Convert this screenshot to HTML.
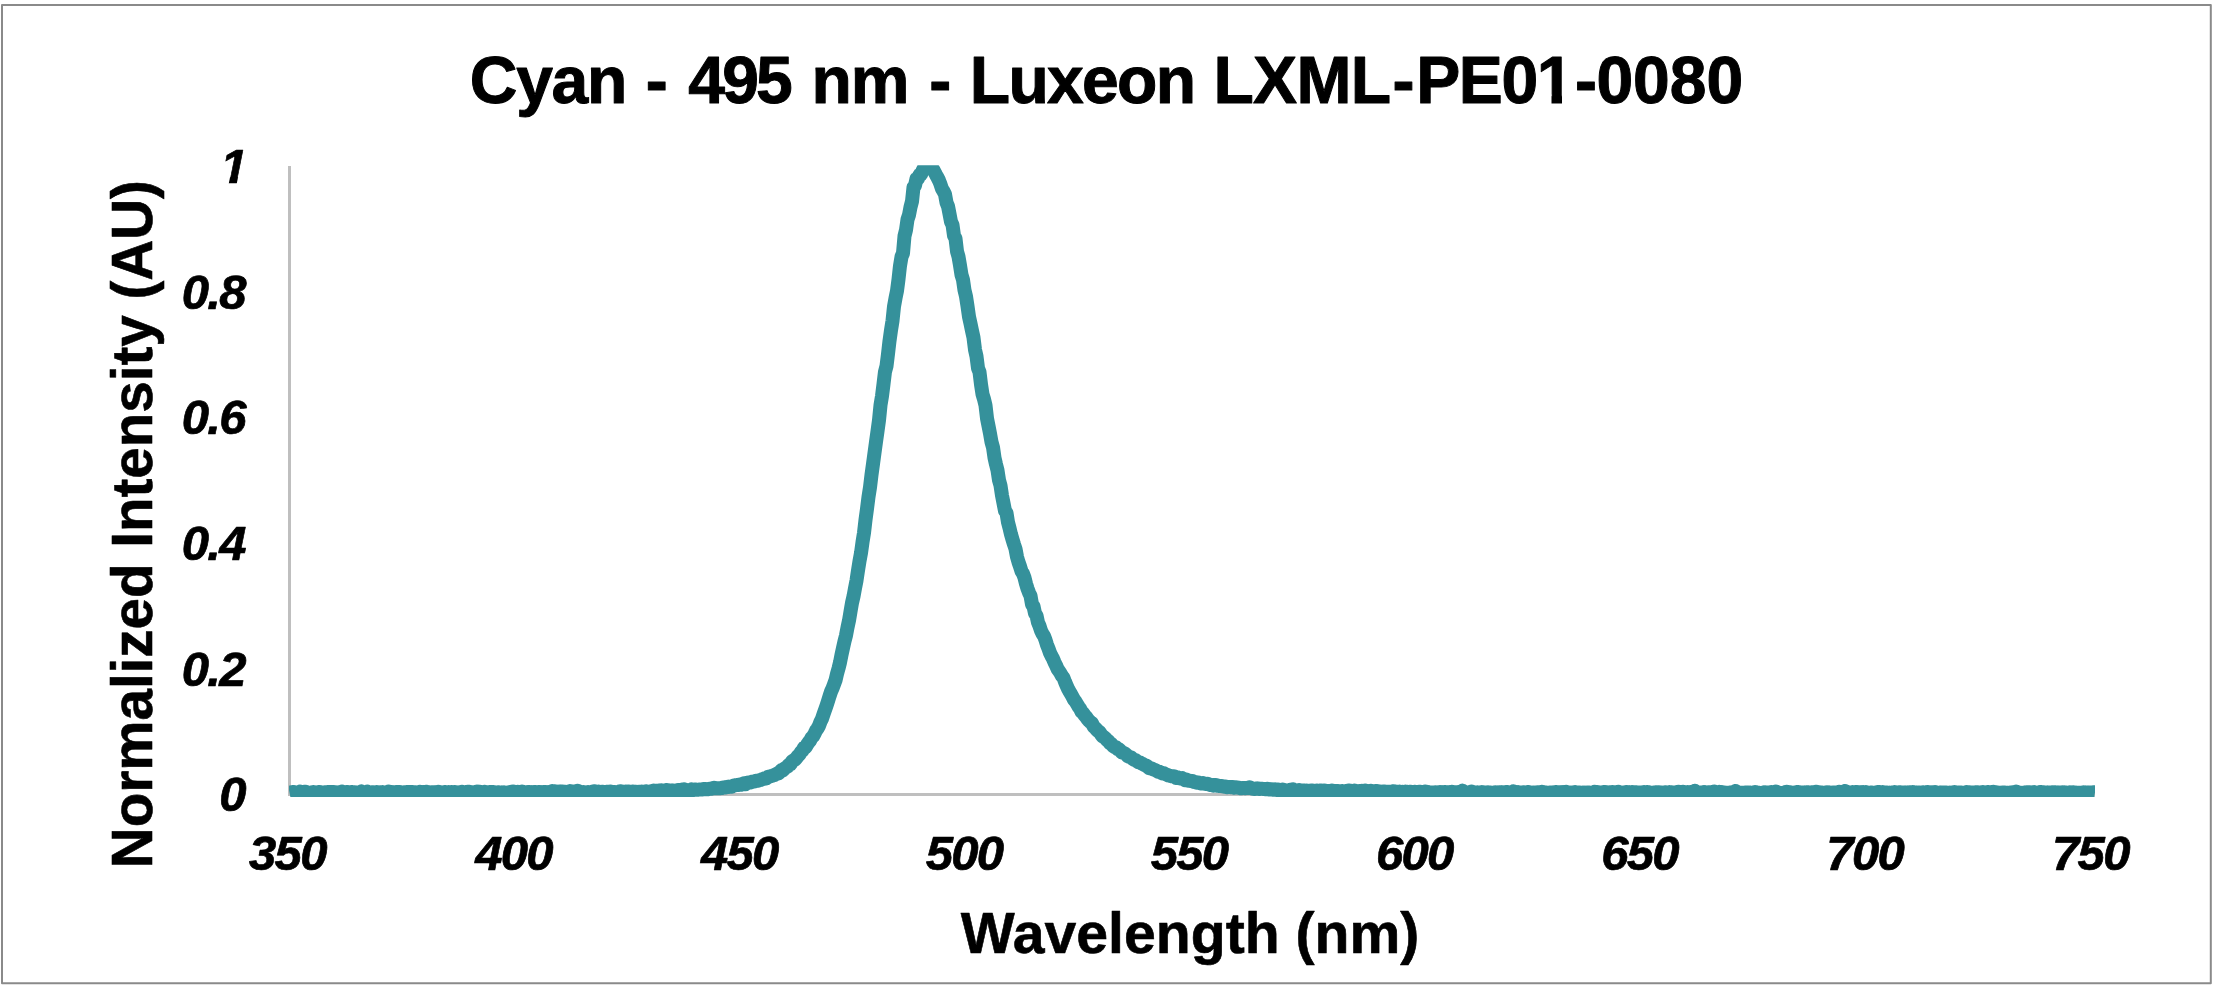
<!DOCTYPE html>
<html lang="en">
<head>
<meta charset="utf-8">
<title>Cyan - 495 nm - Luxeon LXML-PE01-0080</title>
<style>
html,body{margin:0;padding:0;background:#fff;}
body{width:2218px;height:990px;overflow:hidden;font-family:"Liberation Sans",sans-serif;}
svg{display:block;}
.title{font:bold 66px "Liberation Sans",sans-serif;fill:#000;stroke:#000;stroke-width:1px;stroke-linejoin:round;}
.axt{font:bold 57px "Liberation Sans",sans-serif;fill:#000;stroke:#000;stroke-width:0.6px;stroke-linejoin:round;}
.tick text{font:italic bold 49px "Liberation Sans",sans-serif;fill:#000;letter-spacing:-1.7px;stroke:#000;stroke-width:0.7px;stroke-linejoin:round;}
</style>
</head>
<body>
<svg width="2218" height="990" viewBox="0 0 2218 990">
<defs><clipPath id="plot"><rect x="289" y="165.2" width="1806" height="631.8"/></clipPath></defs>
<rect x="0" y="0" width="2218" height="990" fill="#fff"/>
<rect x="2" y="5" width="2208.8" height="978.3" fill="none" stroke="#8a8a8a" stroke-width="2" stroke-linejoin="round"/>
<text class="title" y="103" xml:space="preserve"><tspan x="469.8" letter-spacing="-1.33">Cyan </tspan><tspan x="645.8" letter-spacing="0.00">- </tspan><tspan x="688.2" letter-spacing="-2.75">495 </tspan><tspan x="811.4" letter-spacing="-1.00">nm </tspan><tspan x="929.2" letter-spacing="0.00">- </tspan><tspan x="969.8" letter-spacing="-1.70">Luxeon </tspan><tspan x="1213.4" letter-spacing="-0.67">LXML</tspan><tspan x="1392.6" letter-spacing="0.00">-</tspan><tspan x="1416.2" letter-spacing="-1.40">PE01</tspan><tspan x="1575.0" letter-spacing="0.00">-</tspan><tspan x="1596.4" letter-spacing="0.00">0080</tspan></text>
<line x1="289.5" y1="166" x2="289.5" y2="796" stroke="#bfbfbf" stroke-width="3"/>
<line x1="288" y1="794.5" x2="2095" y2="794.5" stroke="#bfbfbf" stroke-width="3"/>
<g class="tick"><text x="287.4" y="869.65" text-anchor="middle">350</text><text x="513.6" y="869.65" text-anchor="middle">400</text><text x="739.3" y="869.65" text-anchor="middle">450</text><text x="964.0" y="869.65" text-anchor="middle">500</text><text x="1189.1" y="869.65" text-anchor="middle">550</text><text x="1414.3" y="869.65" text-anchor="middle">600</text><text x="1639.5" y="869.65" text-anchor="middle">650</text><text x="1864.7" y="869.65" text-anchor="middle">700</text><text x="2090.4" y="869.65" text-anchor="middle">750</text><text x="244.8" y="811.4" text-anchor="end">0</text><text x="244.8" y="685.7" text-anchor="end">0.2</text><text x="244.8" y="560.1" text-anchor="end">0.4</text><text x="244.8" y="434.4" text-anchor="end">0.6</text><text x="244.8" y="308.8" text-anchor="end">0.8</text><text x="246.0" y="183.1" text-anchor="end">1</text></g>
<g fill="#fff"><polygon points="218,176.55 230.2,176.55 228.6,184.3 218,184.3"/><polygon points="238.2,176.55 249,176.55 249,184.3 236.6,184.3"/><rect x="1538" y="94.6" width="13.5" height="10"/><rect x="1562" y="94.6" width="12" height="10"/></g>
<text class="axt" x="1190.1" y="952.7" text-anchor="middle" textLength="458.5" lengthAdjust="spacingAndGlyphs">Wavelength (nm)</text>
<text class="axt" transform="translate(151.9,524.2) rotate(-90)" text-anchor="middle" textLength="688" lengthAdjust="spacingAndGlyphs">Normalized Intensity (AU)</text>
<g clip-path="url(#plot)"><path d="M289.5,792.7 L291.0,792.4 L292.5,792.1 L294.0,792.1 L295.5,792.4 L297.0,792.5 L298.5,792.7 L300.0,791.7 L301.5,792.5 L303.0,792.2 L304.5,791.8 L306.0,791.7 L307.5,792.9 L309.0,792.7 L310.5,792.9 L312.0,792.8 L313.5,792.0 L315.0,792.3 L316.5,792.9 L318.0,792.2 L319.5,792.0 L321.0,792.5 L322.5,792.6 L324.0,792.5 L325.5,792.3 L327.0,792.2 L328.5,792.0 L330.0,792.0 L331.5,792.0 L333.0,792.0 L334.5,792.2 L336.0,792.9 L337.5,792.4 L339.0,792.3 L340.5,792.5 L342.0,791.6 L343.5,792.5 L345.0,792.7 L346.5,791.9 L348.0,792.2 L349.5,792.3 L351.0,792.1 L352.5,792.1 L354.0,792.3 L355.5,793.1 L357.0,792.6 L358.5,792.5 L360.0,792.7 L361.5,791.4 L363.0,792.0 L364.5,792.5 L366.0,792.7 L367.5,791.7 L369.0,792.5 L370.5,792.8 L372.0,792.3 L373.5,792.2 L375.0,792.6 L376.5,792.1 L378.0,792.5 L379.5,792.7 L381.0,792.3 L382.5,792.1 L384.0,792.6 L385.5,792.3 L387.0,792.4 L388.5,791.5 L390.0,792.4 L391.5,791.9 L393.0,792.4 L394.5,792.4 L396.0,792.1 L397.5,792.1 L399.0,792.0 L400.5,792.2 L402.0,792.5 L403.5,792.5 L405.0,792.2 L406.5,792.2 L408.0,791.9 L409.5,792.2 L411.0,792.0 L412.5,791.9 L414.0,792.3 L415.5,792.2 L417.0,792.7 L418.5,792.8 L420.0,791.8 L421.5,792.6 L423.0,791.9 L424.5,792.1 L426.0,791.8 L427.5,792.0 L429.0,792.3 L430.5,792.4 L432.0,792.3 L433.5,792.3 L435.0,792.5 L436.5,792.3 L438.0,791.8 L439.5,792.8 L441.0,792.2 L442.5,792.6 L444.0,792.2 L445.5,792.0 L447.0,792.3 L448.5,792.1 L450.0,792.8 L451.5,792.0 L453.0,792.5 L454.5,792.1 L456.0,792.2 L457.5,793.1 L459.0,792.5 L460.5,792.2 L462.0,791.8 L463.5,792.2 L465.0,792.2 L466.5,792.7 L468.0,791.8 L469.5,791.7 L471.0,792.3 L472.5,792.3 L474.0,792.8 L475.5,792.0 L477.0,791.4 L478.5,792.0 L480.0,791.8 L481.5,792.1 L483.0,792.5 L484.5,791.8 L486.0,792.6 L487.5,792.3 L489.0,792.1 L490.5,791.9 L492.0,792.1 L493.5,792.1 L495.0,792.4 L496.5,792.6 L498.0,792.2 L499.5,792.4 L501.0,792.6 L502.5,792.6 L504.0,792.3 L505.5,792.8 L507.0,792.6 L508.5,792.7 L510.0,792.1 L511.5,792.0 L513.0,791.5 L514.5,792.6 L516.0,792.3 L517.5,791.8 L519.0,792.2 L520.5,792.2 L522.0,791.6 L523.5,792.2 L525.0,792.5 L526.5,792.5 L528.0,792.0 L529.5,792.0 L531.0,792.5 L532.5,792.4 L534.0,791.9 L535.5,791.9 L537.0,792.3 L538.5,791.9 L540.0,791.9 L541.5,792.6 L543.0,792.1 L544.5,791.9 L546.0,792.2 L547.5,792.7 L549.0,792.1 L550.5,791.8 L552.0,791.2 L553.5,792.7 L555.0,791.2 L556.5,792.4 L558.0,791.7 L559.5,791.6 L561.0,791.7 L562.5,791.4 L564.0,792.4 L565.5,791.8 L567.0,792.2 L568.5,792.8 L570.0,791.1 L571.5,791.8 L573.0,791.4 L574.5,792.3 L576.0,791.5 L577.5,790.7 L579.0,791.5 L580.5,792.0 L582.0,792.3 L583.5,792.0 L585.0,792.6 L586.5,792.5 L588.0,791.9 L589.5,792.3 L591.0,792.0 L592.5,791.7 L594.0,791.3 L595.5,791.5 L597.0,791.9 L598.5,791.6 L600.0,792.2 L601.5,792.0 L603.0,791.7 L604.5,792.3 L606.0,792.0 L607.5,791.7 L609.0,791.9 L610.5,791.4 L612.0,792.2 L613.5,791.9 L615.0,792.2 L616.5,792.3 L618.0,792.3 L619.5,791.4 L621.0,791.2 L622.5,791.8 L624.0,792.1 L625.5,791.6 L627.0,791.9 L628.5,791.6 L630.0,791.7 L631.5,791.7 L633.0,791.6 L634.5,791.9 L636.0,791.8 L637.5,792.2 L639.0,791.7 L640.5,792.0 L642.0,791.6 L643.5,791.8 L645.0,791.4 L646.5,791.3 L648.0,791.8 L649.5,791.6 L651.0,791.5 L652.5,791.0 L654.0,790.6 L655.5,790.8 L657.0,791.1 L658.5,790.5 L660.0,791.4 L661.5,790.4 L663.0,791.1 L664.5,791.7 L666.0,789.9 L667.5,790.1 L669.0,790.9 L670.5,790.5 L672.0,790.6 L673.5,790.4 L675.0,790.8 L676.5,790.5 L678.0,790.1 L679.5,790.1 L681.0,789.8 L682.5,790.1 L684.0,789.3 L685.5,790.2 L687.0,789.9 L688.5,790.5 L690.0,790.2 L691.5,789.4 L693.0,790.0 L694.5,789.5 L696.0,789.6 L697.5,789.8 L699.0,789.5 L700.5,789.5 L702.0,789.4 L703.5,789.0 L705.0,789.0 L706.5,789.2 L708.0,789.2 L709.5,788.8 L711.0,788.8 L712.5,788.3 L714.0,787.7 L715.5,788.1 L717.0,788.3 L718.5,788.2 L720.0,788.2 L721.5,788.1 L723.0,787.4 L724.5,787.6 L726.0,787.3 L727.5,786.7 L729.0,786.9 L730.5,786.6 L732.0,786.7 L733.5,785.6 L735.0,785.3 L736.5,785.1 L738.0,785.1 L739.5,784.5 L741.0,784.8 L742.5,784.2 L744.0,783.3 L745.5,784.2 L747.0,782.9 L748.5,782.4 L750.0,782.5 L751.5,782.0 L753.0,781.5 L754.5,781.6 L756.0,780.8 L757.5,780.8 L759.0,780.3 L760.5,779.9 L762.0,779.3 L763.5,778.9 L765.0,778.2 L766.5,778.4 L768.0,776.7 L769.5,776.6 L771.0,776.1 L772.5,775.7 L774.0,775.2 L775.5,774.4 L777.0,773.6 L778.5,773.5 L780.0,771.9 L781.5,770.0 L783.0,770.3 L784.5,768.5 L786.0,767.5 L787.5,766.6 L789.0,764.7 L790.5,764.4 L792.0,761.4 L793.5,760.3 L795.0,759.7 L796.5,757.8 L798.0,755.9 L799.5,754.5 L801.0,752.0 L802.5,750.6 L804.0,747.6 L805.5,747.3 L807.0,744.8 L808.5,742.6 L810.0,740.8 L811.5,737.9 L813.0,736.4 L814.5,733.8 L816.0,730.6 L817.5,728.5 L819.0,725.8 L820.5,721.8 L822.0,718.7 L823.5,714.3 L825.0,710.0 L826.5,705.7 L828.0,701.1 L829.5,696.2 L831.0,691.7 L832.5,688.4 L834.0,684.3 L835.5,680.3 L837.0,673.9 L838.5,668.5 L840.0,662.5 L841.5,654.8 L843.0,647.9 L844.5,641.2 L846.0,635.4 L847.5,627.5 L849.0,620.6 L850.5,611.7 L852.0,602.9 L853.5,596.4 L855.0,588.3 L856.5,580.6 L858.0,570.4 L859.5,561.2 L861.0,553.1 L862.5,542.2 L864.0,532.9 L865.5,519.9 L867.0,508.9 L868.5,496.9 L870.0,487.4 L871.5,474.8 L873.0,464.0 L874.5,452.9 L876.0,441.9 L877.5,431.3 L879.0,420.2 L880.5,405.2 L882.0,396.2 L883.5,384.1 L885.0,371.7 L886.5,366.1 L888.0,354.0 L889.5,340.9 L891.0,330.3 L892.5,320.8 L894.0,306.5 L895.5,298.2 L897.0,290.9 L898.5,279.4 L900.0,265.8 L901.5,256.8 L903.0,253.2 L904.5,236.0 L906.0,230.0 L907.5,219.5 L909.0,215.0 L910.5,207.1 L912.0,201.4 L913.5,187.2 L915.0,185.6 L916.5,178.8 L918.0,178.5 L919.5,174.8 L921.0,174.4 L922.5,170.9 L924.0,167.9 L925.5,168.0 L927.0,166.5 L928.5,166.2 L930.0,167.1 L931.5,167.6 L933.0,169.2 L934.5,171.9 L936.0,174.8 L937.5,177.5 L939.0,180.5 L940.5,184.3 L942.0,188.9 L943.5,191.3 L945.0,194.2 L946.5,202.6 L948.0,206.2 L949.5,213.9 L951.0,221.7 L952.5,224.9 L954.0,235.6 L955.5,238.5 L957.0,251.3 L958.5,256.6 L960.0,265.4 L961.5,274.9 L963.0,279.8 L964.5,290.2 L966.0,296.4 L967.5,306.1 L969.0,316.7 L970.5,323.6 L972.0,330.7 L973.5,337.6 L975.0,349.7 L976.5,356.4 L978.0,368.2 L979.5,372.0 L981.0,384.4 L982.5,394.2 L984.0,399.1 L985.5,405.4 L987.0,418.3 L988.5,425.9 L990.0,433.5 L991.5,442.0 L993.0,447.3 L994.5,457.7 L996.0,464.4 L997.5,470.3 L999.0,480.1 L1000.5,485.5 L1002.0,495.5 L1003.5,503.1 L1005.0,510.9 L1006.5,512.9 L1008.0,522.3 L1009.5,528.1 L1011.0,534.3 L1012.5,539.5 L1014.0,544.4 L1015.5,548.9 L1017.0,556.9 L1018.5,562.1 L1020.0,566.4 L1021.5,571.3 L1023.0,573.6 L1024.5,577.7 L1026.0,583.7 L1027.5,588.6 L1029.0,592.7 L1030.5,595.8 L1032.0,604.4 L1033.5,606.2 L1035.0,613.4 L1036.5,615.6 L1038.0,622.4 L1039.5,626.0 L1041.0,630.6 L1042.5,633.8 L1044.0,636.1 L1045.5,640.0 L1047.0,644.9 L1048.5,648.6 L1050.0,652.9 L1051.5,656.0 L1053.0,658.7 L1054.5,662.3 L1056.0,665.3 L1057.5,668.9 L1059.0,671.0 L1060.5,673.3 L1062.0,676.0 L1063.5,677.9 L1065.0,681.9 L1066.5,685.3 L1068.0,688.8 L1069.5,691.4 L1071.0,694.0 L1072.5,696.8 L1074.0,699.6 L1075.5,701.5 L1077.0,704.0 L1078.5,706.6 L1080.0,708.5 L1081.5,711.7 L1083.0,713.0 L1084.5,715.1 L1086.0,716.8 L1087.5,719.0 L1089.0,720.8 L1090.5,722.1 L1092.0,723.2 L1093.5,726.4 L1095.0,727.7 L1096.5,729.5 L1098.0,731.0 L1099.5,731.9 L1101.0,734.3 L1102.5,736.3 L1104.0,737.0 L1105.5,738.4 L1107.0,740.1 L1108.5,741.2 L1110.0,743.2 L1111.5,744.1 L1113.0,746.0 L1114.5,746.9 L1116.0,747.3 L1117.5,749.1 L1119.0,749.3 L1120.5,750.9 L1122.0,752.6 L1123.5,752.8 L1125.0,753.5 L1126.5,754.9 L1128.0,756.3 L1129.5,756.9 L1131.0,757.4 L1132.5,758.7 L1134.0,759.7 L1135.5,760.0 L1137.0,761.3 L1138.5,762.2 L1140.0,762.6 L1141.5,763.5 L1143.0,764.1 L1144.5,765.2 L1146.0,765.4 L1147.5,766.5 L1149.0,768.2 L1150.5,768.0 L1152.0,768.7 L1153.5,769.5 L1155.0,769.9 L1156.5,770.8 L1158.0,771.8 L1159.5,771.7 L1161.0,772.7 L1162.5,773.6 L1164.0,773.3 L1165.5,774.3 L1167.0,774.7 L1168.5,775.5 L1170.0,775.8 L1171.5,776.2 L1173.0,776.3 L1174.5,776.5 L1176.0,777.9 L1177.5,777.3 L1179.0,778.2 L1180.5,778.6 L1182.0,778.1 L1183.5,779.2 L1185.0,780.2 L1186.5,779.5 L1188.0,780.8 L1189.5,780.8 L1191.0,781.0 L1192.5,781.0 L1194.0,781.9 L1195.5,781.9 L1197.0,782.7 L1198.5,782.4 L1200.0,783.3 L1201.5,783.5 L1203.0,783.0 L1204.5,783.7 L1206.0,784.1 L1207.5,783.7 L1209.0,784.5 L1210.5,785.1 L1212.0,784.9 L1213.5,785.6 L1215.0,785.0 L1216.5,785.2 L1218.0,785.9 L1219.5,786.1 L1221.0,786.0 L1222.5,786.2 L1224.0,786.7 L1225.5,786.4 L1227.0,787.3 L1228.5,786.9 L1230.0,787.0 L1231.5,787.2 L1233.0,787.1 L1234.5,787.7 L1236.0,787.2 L1237.5,787.6 L1239.0,787.8 L1240.5,788.2 L1242.0,788.2 L1243.5,787.9 L1245.0,788.2 L1246.5,788.1 L1248.0,788.0 L1249.5,787.2 L1251.0,788.0 L1252.5,788.7 L1254.0,789.0 L1255.5,788.4 L1257.0,788.7 L1258.5,788.5 L1260.0,789.0 L1261.5,788.7 L1263.0,788.9 L1264.5,789.0 L1266.0,789.2 L1267.5,788.7 L1269.0,789.4 L1270.5,789.5 L1272.0,789.3 L1273.5,789.8 L1275.0,789.2 L1276.5,789.9 L1278.0,789.6 L1279.5,790.0 L1281.0,790.2 L1282.5,789.5 L1284.0,790.3 L1285.5,790.7 L1287.0,790.6 L1288.5,790.5 L1290.0,789.8 L1291.5,790.4 L1293.0,789.4 L1294.5,790.9 L1296.0,790.5 L1297.5,790.4 L1299.0,790.1 L1300.5,790.9 L1302.0,790.5 L1303.5,790.6 L1305.0,791.1 L1306.5,790.4 L1308.0,790.8 L1309.5,791.4 L1311.0,790.6 L1312.5,790.6 L1314.0,791.0 L1315.5,791.3 L1317.0,790.4 L1318.5,790.8 L1320.0,790.5 L1321.5,790.4 L1323.0,791.1 L1324.5,790.6 L1326.0,791.0 L1327.5,791.0 L1329.0,791.0 L1330.5,791.0 L1332.0,790.6 L1333.5,790.9 L1335.0,791.0 L1336.5,791.1 L1338.0,790.9 L1339.5,791.3 L1341.0,791.2 L1342.5,791.1 L1344.0,791.3 L1345.5,791.1 L1347.0,791.3 L1348.5,790.5 L1350.0,790.7 L1351.5,791.0 L1353.0,791.2 L1354.5,790.5 L1356.0,791.1 L1357.5,791.3 L1359.0,791.1 L1360.5,791.2 L1362.0,790.8 L1363.5,791.3 L1365.0,790.6 L1366.5,791.6 L1368.0,791.1 L1369.5,791.7 L1371.0,790.8 L1372.5,791.5 L1374.0,791.4 L1375.5,791.1 L1377.0,791.0 L1378.5,791.8 L1380.0,791.6 L1381.5,792.0 L1383.0,791.5 L1384.5,791.6 L1386.0,791.7 L1387.5,791.8 L1389.0,791.7 L1390.5,791.8 L1392.0,791.5 L1393.5,791.2 L1395.0,792.3 L1396.5,791.7 L1398.0,791.8 L1399.5,791.6 L1401.0,792.1 L1402.5,791.8 L1404.0,792.1 L1405.5,791.6 L1407.0,791.8 L1408.5,791.9 L1410.0,791.8 L1411.5,792.0 L1413.0,792.4 L1414.5,791.8 L1416.0,791.9 L1417.5,792.1 L1419.0,791.7 L1420.5,791.7 L1422.0,792.4 L1423.5,792.4 L1425.0,791.6 L1426.5,791.7 L1428.0,792.4 L1429.5,792.6 L1431.0,792.4 L1432.5,792.4 L1434.0,792.7 L1435.5,792.2 L1437.0,792.7 L1438.5,792.7 L1440.0,792.0 L1441.5,792.5 L1443.0,792.3 L1444.5,791.9 L1446.0,792.1 L1447.5,792.4 L1449.0,792.3 L1450.5,792.6 L1452.0,791.8 L1453.5,792.1 L1455.0,792.7 L1456.5,792.3 L1458.0,792.1 L1459.5,792.2 L1461.0,791.8 L1462.5,790.6 L1464.0,792.5 L1465.5,792.4 L1467.0,792.8 L1468.5,792.3 L1470.0,792.3 L1471.5,791.5 L1473.0,792.3 L1474.5,793.0 L1476.0,792.6 L1477.5,792.3 L1479.0,792.8 L1480.5,792.7 L1482.0,792.1 L1483.5,792.3 L1485.0,792.4 L1486.5,792.7 L1488.0,792.2 L1489.5,792.6 L1491.0,792.6 L1492.5,792.8 L1494.0,792.7 L1495.5,792.2 L1497.0,792.9 L1498.5,792.4 L1500.0,792.2 L1501.5,792.5 L1503.0,792.3 L1504.5,792.8 L1506.0,792.0 L1507.5,792.1 L1509.0,792.4 L1510.5,793.0 L1512.0,792.5 L1513.5,791.4 L1515.0,791.9 L1516.5,792.4 L1518.0,792.1 L1519.5,792.6 L1521.0,792.5 L1522.5,792.5 L1524.0,792.3 L1525.5,792.9 L1527.0,792.2 L1528.5,792.0 L1530.0,792.8 L1531.5,792.9 L1533.0,792.4 L1534.5,792.7 L1536.0,793.2 L1537.5,792.2 L1539.0,792.4 L1540.5,792.6 L1542.0,791.8 L1543.5,792.4 L1545.0,792.7 L1546.5,792.5 L1548.0,792.8 L1549.5,792.7 L1551.0,792.4 L1552.5,792.7 L1554.0,792.6 L1555.5,792.0 L1557.0,792.2 L1558.5,792.2 L1560.0,792.3 L1561.5,792.3 L1563.0,792.0 L1564.5,792.5 L1566.0,791.9 L1567.5,792.8 L1569.0,792.6 L1570.5,792.9 L1572.0,792.6 L1573.5,792.3 L1575.0,792.0 L1576.5,792.7 L1578.0,792.5 L1579.5,792.6 L1581.0,792.7 L1582.5,792.9 L1584.0,792.5 L1585.5,793.0 L1587.0,792.5 L1588.5,792.5 L1590.0,792.7 L1591.5,792.8 L1593.0,792.9 L1594.5,791.9 L1596.0,792.9 L1597.5,792.0 L1599.0,792.3 L1600.5,792.6 L1602.0,792.9 L1603.5,792.2 L1605.0,791.9 L1606.5,792.8 L1608.0,792.6 L1609.5,792.2 L1611.0,792.4 L1612.5,791.9 L1614.0,792.7 L1615.5,792.3 L1617.0,792.9 L1618.5,791.8 L1620.0,792.7 L1621.5,793.2 L1623.0,792.5 L1624.5,792.5 L1626.0,791.9 L1627.5,792.1 L1629.0,792.5 L1630.5,792.3 L1632.0,792.0 L1633.5,792.5 L1635.0,792.2 L1636.5,792.3 L1638.0,792.6 L1639.5,792.5 L1641.0,792.5 L1642.5,792.8 L1644.0,792.1 L1645.5,792.9 L1647.0,792.1 L1648.5,792.2 L1650.0,792.5 L1651.5,792.8 L1653.0,792.6 L1654.5,792.4 L1656.0,792.3 L1657.5,792.4 L1659.0,792.2 L1660.5,792.7 L1662.0,792.4 L1663.5,793.0 L1665.0,792.3 L1666.5,792.5 L1668.0,792.6 L1669.5,792.1 L1671.0,792.3 L1672.5,793.4 L1674.0,792.5 L1675.5,792.9 L1677.0,792.2 L1678.5,791.7 L1680.0,792.7 L1681.5,792.1 L1683.0,791.7 L1684.5,792.4 L1686.0,792.3 L1687.5,792.1 L1689.0,792.8 L1690.5,792.0 L1692.0,792.8 L1693.5,792.4 L1695.0,790.8 L1696.5,792.3 L1698.0,792.8 L1699.5,792.7 L1701.0,792.6 L1702.5,792.5 L1704.0,792.1 L1705.5,792.9 L1707.0,792.4 L1708.5,792.3 L1710.0,792.3 L1711.5,792.4 L1713.0,792.0 L1714.5,791.5 L1716.0,792.2 L1717.5,792.3 L1719.0,791.9 L1720.5,793.1 L1722.0,792.1 L1723.5,792.6 L1725.0,792.6 L1726.5,792.8 L1728.0,793.1 L1729.5,792.6 L1731.0,792.7 L1732.5,792.4 L1734.0,793.0 L1735.5,790.9 L1737.0,792.4 L1738.5,792.6 L1740.0,792.7 L1741.5,792.7 L1743.0,792.8 L1744.5,792.7 L1746.0,792.5 L1747.5,792.6 L1749.0,792.9 L1750.5,792.6 L1752.0,792.8 L1753.5,792.5 L1755.0,791.9 L1756.5,792.3 L1758.0,792.6 L1759.5,793.0 L1761.0,793.0 L1762.5,793.0 L1764.0,792.3 L1765.5,792.7 L1767.0,792.5 L1768.5,792.7 L1770.0,792.5 L1771.5,792.1 L1773.0,792.7 L1774.5,792.6 L1776.0,791.6 L1777.5,792.2 L1779.0,792.8 L1780.5,792.9 L1782.0,792.9 L1783.5,792.9 L1785.0,792.4 L1786.5,791.7 L1788.0,792.8 L1789.5,792.2 L1791.0,792.4 L1792.5,792.8 L1794.0,792.6 L1795.5,792.6 L1797.0,792.0 L1798.5,791.9 L1800.0,793.1 L1801.5,792.4 L1803.0,792.4 L1804.5,792.7 L1806.0,792.5 L1807.5,792.2 L1809.0,792.5 L1810.5,792.4 L1812.0,792.3 L1813.5,793.1 L1815.0,792.0 L1816.5,791.8 L1818.0,792.2 L1819.5,792.2 L1821.0,793.0 L1822.5,792.6 L1824.0,792.8 L1825.5,792.7 L1827.0,792.2 L1828.5,792.7 L1830.0,792.6 L1831.5,793.1 L1833.0,792.6 L1834.5,792.5 L1836.0,792.7 L1837.5,792.7 L1839.0,791.9 L1840.5,792.9 L1842.0,792.8 L1843.5,792.8 L1845.0,790.9 L1846.5,791.8 L1848.0,792.4 L1849.5,792.7 L1851.0,792.6 L1852.5,792.1 L1854.0,792.8 L1855.5,792.0 L1857.0,792.0 L1858.5,792.5 L1860.0,792.3 L1861.5,792.3 L1863.0,792.0 L1864.5,792.8 L1866.0,792.1 L1867.5,792.6 L1869.0,792.8 L1870.5,792.5 L1872.0,792.6 L1873.5,792.8 L1875.0,793.0 L1876.5,792.8 L1878.0,792.0 L1879.5,791.9 L1881.0,792.3 L1882.5,792.1 L1884.0,792.7 L1885.5,792.5 L1887.0,792.4 L1888.5,792.8 L1890.0,792.8 L1891.5,792.5 L1893.0,792.6 L1894.5,792.1 L1896.0,792.4 L1897.5,792.6 L1899.0,792.2 L1900.5,792.3 L1902.0,792.6 L1903.5,792.5 L1905.0,792.6 L1906.5,792.4 L1908.0,792.6 L1909.5,792.3 L1911.0,792.3 L1912.5,792.1 L1914.0,793.0 L1915.5,792.6 L1917.0,792.6 L1918.5,792.4 L1920.0,792.7 L1921.5,792.7 L1923.0,792.3 L1924.5,792.4 L1926.0,792.9 L1927.5,792.1 L1929.0,792.2 L1930.5,792.7 L1932.0,792.2 L1933.5,792.7 L1935.0,792.1 L1936.5,792.5 L1938.0,792.8 L1939.5,792.6 L1941.0,792.7 L1942.5,792.4 L1944.0,792.4 L1945.5,792.5 L1947.0,792.7 L1948.5,793.7 L1950.0,792.5 L1951.5,793.1 L1953.0,792.4 L1954.5,792.1 L1956.0,792.4 L1957.5,792.6 L1959.0,792.6 L1960.5,792.5 L1962.0,792.7 L1963.5,792.7 L1965.0,792.8 L1966.5,792.1 L1968.0,792.5 L1969.5,792.2 L1971.0,792.6 L1972.5,792.5 L1974.0,792.6 L1975.5,792.3 L1977.0,792.2 L1978.5,792.4 L1980.0,792.7 L1981.5,792.8 L1983.0,792.0 L1984.5,792.6 L1986.0,792.6 L1987.5,792.0 L1989.0,792.2 L1990.5,792.3 L1992.0,792.6 L1993.5,791.8 L1995.0,792.4 L1996.5,792.3 L1998.0,792.6 L1999.5,793.0 L2001.0,792.9 L2002.5,792.4 L2004.0,792.4 L2005.5,792.6 L2007.0,792.8 L2008.5,792.9 L2010.0,792.6 L2011.5,793.0 L2013.0,792.2 L2014.5,792.1 L2016.0,791.6 L2017.5,792.2 L2019.0,792.7 L2020.5,792.8 L2022.0,793.6 L2023.5,792.7 L2025.0,792.6 L2026.5,792.2 L2028.0,792.3 L2029.5,792.3 L2031.0,792.4 L2032.5,792.3 L2034.0,792.1 L2035.5,792.8 L2037.0,792.7 L2038.5,792.9 L2040.0,792.0 L2041.5,792.1 L2043.0,792.3 L2044.5,792.9 L2046.0,792.4 L2047.5,792.6 L2049.0,792.5 L2050.5,792.6 L2052.0,792.3 L2053.5,792.6 L2055.0,792.3 L2056.5,792.4 L2058.0,792.6 L2059.5,792.5 L2061.0,792.6 L2062.5,792.2 L2064.0,792.6 L2065.5,792.4 L2067.0,792.6 L2068.5,793.0 L2070.0,792.2 L2071.5,792.8 L2073.0,792.3 L2074.5,792.4 L2076.0,793.0 L2077.5,792.8 L2079.0,792.7 L2080.5,792.7 L2082.0,792.9 L2083.5,792.3 L2085.0,792.6 L2086.5,792.4 L2088.0,792.6 L2089.5,792.4 L2091.0,792.5 L2092.5,792.5 L2094.0,792.3 L2095.0,792.5" fill="none" stroke="#35919b" stroke-width="14" stroke-linejoin="round" stroke-linecap="butt"/></g>
</svg>
</body>
</html>
